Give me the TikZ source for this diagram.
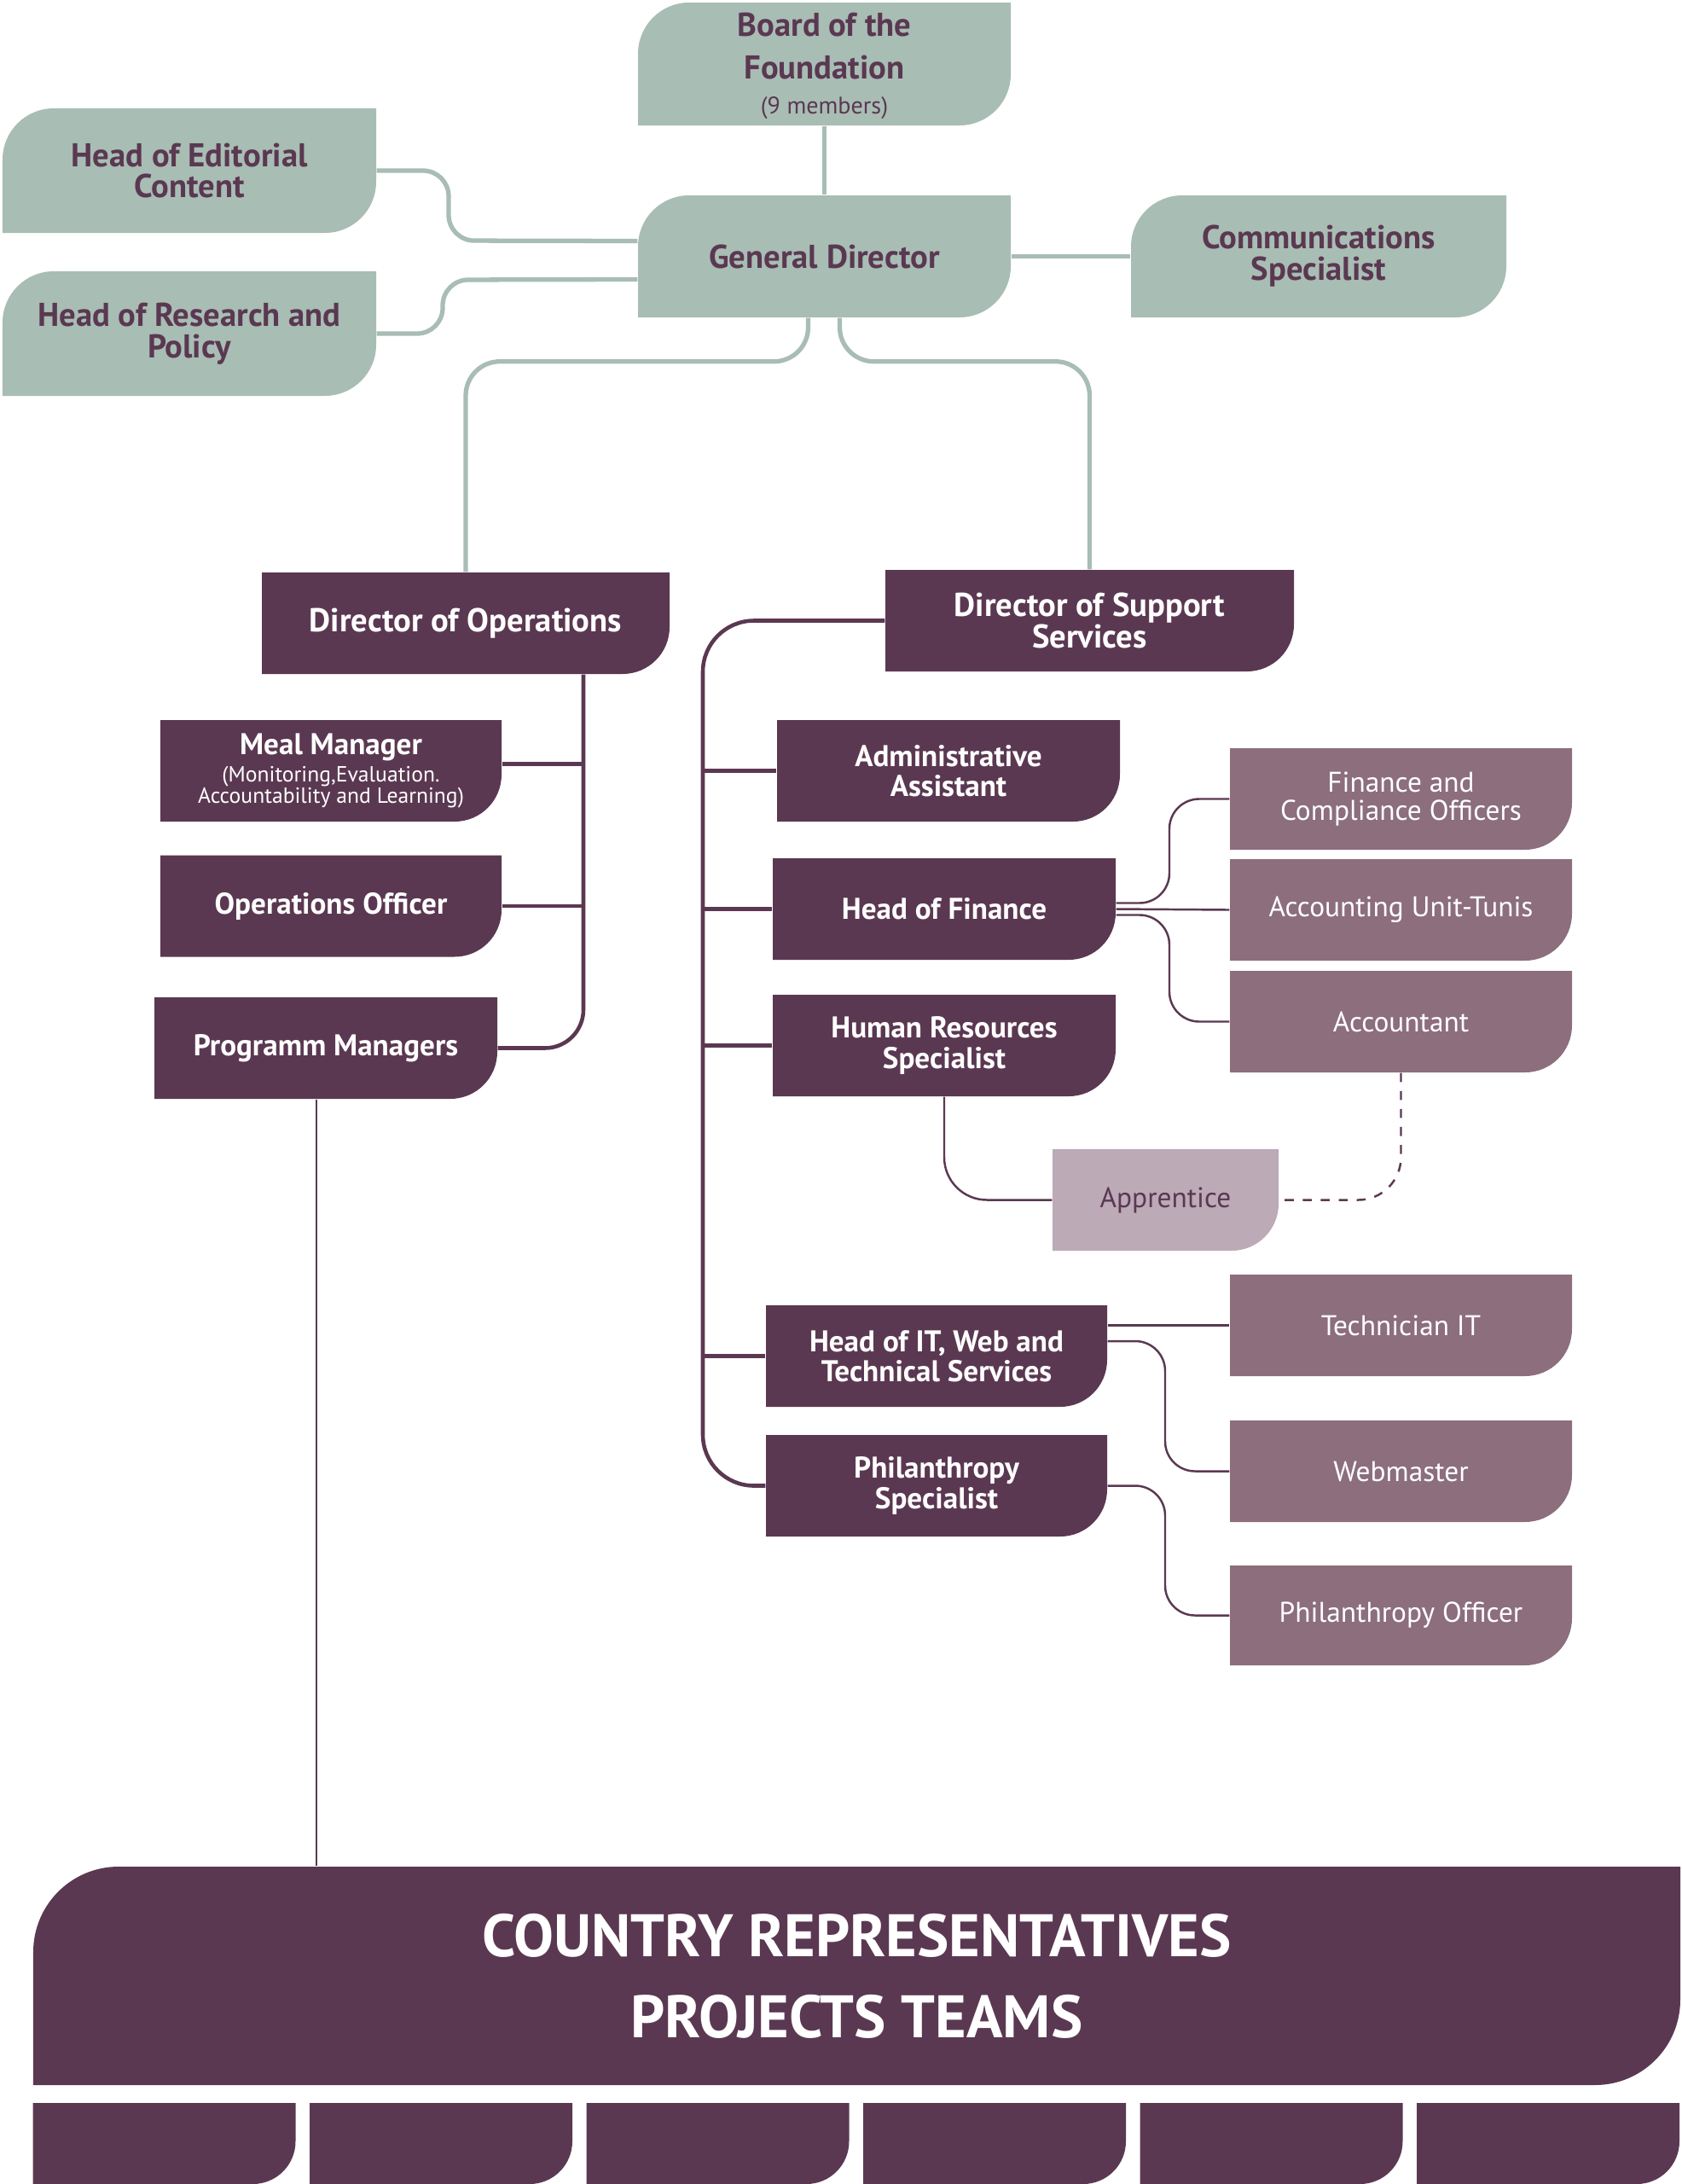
\documentclass[tikz,border=0pt]{standalone}
\usepackage{fontspec}
\setmainfont{PT Sans}
\usepackage{xcolor}
\definecolor{sage}{HTML}{A8BDB4}
\definecolor{plum}{HTML}{5B3851}
\definecolor{mauve}{HTML}{8C6E7D}
\definecolor{lilac}{HTML}{BCAAB7}
\usetikzlibrary{calc}
\newcommand{\subtxt}{\fontsize{7.3}{7.5}\selectfont\mdseries}

\begin{document}
\begin{tikzpicture}
\useasboundingbox (0,0) rectangle (19.72,-25.6);
\tikzset{
	brcorner/.style args={#1/#2}{
		path picture={
			\path (path picture bounding box.north west) coordinate (pnw)
			      (path picture bounding box.south east) coordinate (pse);
			\fill[#1] (pnw) -- (pnw -| pse) -- ([yshift=#2]pse)
			  arc[start angle=0, end angle=-90, radius=#2] -- (pse -| pnw) -- cycle;
		}
	},
	leaf/.style args={#1/#2/#3}{
		path picture={
			\path (path picture bounding box.north west) coordinate (pnw)
			      (path picture bounding box.south east) coordinate (pse);
			\fill[#1] ([xshift=#2]pnw) -- (pnw -| pse) -- ([yshift=#3]pse)
			  arc[start angle=0, end angle=-90, radius=#3] -- (pse -| pnw)
			  -- ([yshift=-#2]pnw) arc[start angle=180, end angle=90, radius=#2] -- cycle;
		}
	},
	boxG/.style={
		rectangle,
		inner sep=0pt,
		minimum width=4.37cm,
		minimum height=1.43cm,
		align=center,
		text=plum,
		font=\fontsize{11}{10.5}\selectfont\bfseries,
		leaf=sage/6mm/6mm
	},
	boxD/.style={
		rectangle,
		inner sep=0pt,
		minimum width=4cm,
		minimum height=1.19cm,
		align=center,
		text=white,
		font=\fontsize{10}{10}\selectfont\bfseries,
		brcorner=plum/5.5mm
	},
	boxDir/.style={
		boxD,
		minimum width=4.78cm,
		font=\fontsize{11}{10.5}\selectfont\bfseries
	},
	boxM/.style={
		rectangle,
		inner sep=0pt,
		minimum width=4.01cm,
		minimum height=1.19cm,
		align=center,
		text=white,
		font=\fontsize{9.5}{9.5}\selectfont,
		brcorner=mauve/5.5mm
	},
	boxL/.style={
		rectangle,
		inner sep=0pt,
		minimum width=2.65cm,
		minimum height=1.19cm,
		align=center,
		text=plum,
		font=\fontsize{9.5}{10.5}\selectfont,
		brcorner=lilac/5.5mm
	},
	boxBig/.style={
		rectangle,
		inner sep=0pt,
		minimum width=19.31cm,
		minimum height=2.56cm,
		align=center,
		text=white,
		font=\fontsize{20}{24}\selectfont\bfseries,
		leaf=plum/1cm/1cm
	},
	gline/.style={draw=sage, line width=1.5pt, rounded corners=3mm},
	pline/.style={draw=plum, line width=1.3pt, rounded corners=4.5mm},
	tline/.style={draw=plum, line width=0.7pt, rounded corners=3.5mm},
}

% board and general director
\node (board) [boxG, minimum height=1.44cm] at (9.665,-0.75) {\rule{0pt}{9pt}Board of the\\[4pt]Foundation\\[1pt]{\fontsize{8}{8}\selectfont\mdseries (9 members)}};
\node (hec) [boxG, minimum width=4.38cm, minimum height=1.46cm] at (2.22,-2.0) {Head of Editorial\\Content};
\node (gd) [boxG] at (9.665,-3.005) {General Director};
\node (comm) [boxG, minimum width=4.4cm] at (15.46,-3.005) {Communications\\Specialist};
\node (hrp) [boxG, minimum width=4.38cm, minimum height=1.46cm] at (2.22,-3.91) {Head of Research and\\Policy};

% operations
\node (dops) [boxDir] at (5.46,-7.305) {Director of Operations};
\node (meal) [boxD] at (3.88,-9.035) {Meal Manager\\[-1pt]{\subtxt (Monitoring,Evaluation.}\\[-3pt]{\subtxt Accountability and Learning)}};
\node (opso) [boxD] at (3.88,-10.62) {Operations Officer};
\node (pm) [boxD, minimum width=4.02cm] at (3.82,-12.285) {Programm Managers};

% support services
\node (dss) [boxDir, minimum width=4.79cm] at (12.775,-7.275) {Director of Support\\Services};
\node (aa) [boxD, minimum width=4.02cm] at (11.12,-9.035) {Administrative\\Assistant};
\node (hof) [boxD, minimum width=4.02cm] at (11.07,-10.655) {Head of Finance};
\node (hrs) [boxD, minimum width=4.02cm] at (11.07,-12.255) {Human Resources\\Specialist};
\node (hit) [boxD] at (10.98,-15.895) {Head of IT, Web and\\Technical Services};
\node (ps) [boxD] at (10.98,-17.415) {Philanthropy\\Specialist};

\node (fco) [boxM] at (16.425,-9.365) {Finance and\\Compliance Officers};
\node (aut) [boxM] at (16.425,-10.665) {Accounting Unit-Tunis};
\node (acc) [boxM] at (16.425,-11.975) {Accountant};
\node (app) [boxL] at (13.665,-14.065) {Apprentice};
\node (tech) [boxM] at (16.425,-15.535) {Technician IT};
\node (web) [boxM] at (16.425,-17.245) {Webmaster};
\node (po) [boxM, minimum height=1.17cm] at (16.425,-18.935) {Philanthropy Officer};

% country level
\node (crpt) [boxBig] at (10.045,-23.16) {COUNTRY REPRESENTATIVES\\[3pt]PROJECTS TEAMS};
\foreach \i in {0,...,5}
	\node (team\i) [boxD, minimum width=3.08cm, minimum height=0.95cm, brcorner=plum/5mm] at ({1.925+3.245*\i},-25.125) {};

% green links
\draw[gline] (board.south) -- (gd.north);
\draw[gline] (hec.east) -| (5.26,-2.82) -- ([yshift=1.8mm]gd.west);
\draw[gline] (hrp.east) -| (5.19,-3.28) -- ([yshift=-2.7mm]gd.west);
\draw[gline] (gd.east) -- (comm.west);
\draw[gline, rounded corners=4mm] ([xshift=-1.9mm]gd.south) -- ++(0,-0.51) -| (dops.north);
\draw[gline, rounded corners=4mm] ([xshift=1.8mm]gd.south) -- ++(0,-0.51) -| (dss.north);

% operations links
\coordinate (opsbus) at ([xshift=13.8mm]dops.south);
\draw[pline] (opsbus) |- (pm.east);
\draw[pline] ([yshift=0.8mm]meal.east) -- ([yshift=0.8mm]meal.east -| opsbus);
\draw[pline] (opso.east) -- (opso.east -| opsbus);
\coordinate (pmfoot) at ([xshift=-1.1mm]pm.south);
\draw[tline] (pmfoot) -- (pmfoot |- crpt.north);

% support links
\coordinate (supbus) at (8.24,-12);
\draw[pline, rounded corners=6mm] (dss.west) -| (supbus) |- (ps.west);
\foreach \n in {aa,hof,hrs,hit}
	\draw[pline] (\n.west) -- (\n.west -| supbus);

\coordinate (finbus) at (13.71,-10.6);
\draw[tline] ([yshift=0.7mm]hof.east) -| (finbus |- fco.west) -- (fco.west);
\draw[tline] (hof.east) -- (aut.west);
\draw[tline] ([yshift=-0.7mm]hof.east) -| (finbus |- acc.west) -- (acc.west);

\draw[tline, rounded corners=5mm] (hrs.south) |- (app.west);
\draw[tline, dashed, rounded corners=5mm] (acc.south) |- (app.east);

\coordinate (itbus) at (13.66,-16.5);
\draw[tline] (tech.west -| hit.east) -- (tech.west);
\draw[tline] ([yshift=1.75mm]hit.east) -| (itbus |- web.west) -- (web.west);
\draw[tline] (ps.east) -| (itbus |- po.west) -- (po.west);
\end{tikzpicture}
\end{document}
